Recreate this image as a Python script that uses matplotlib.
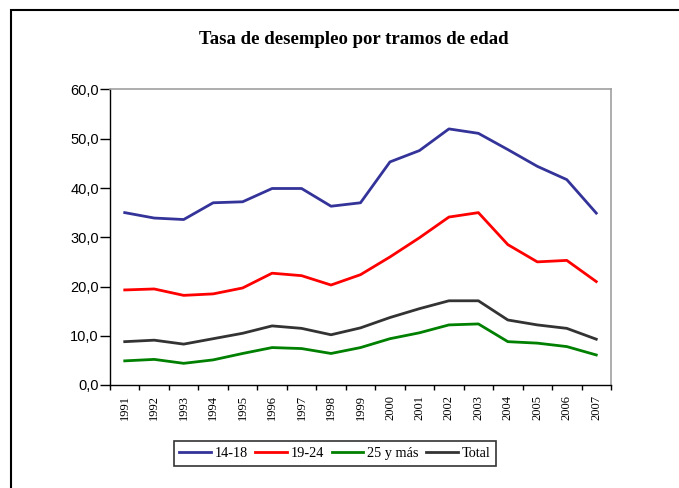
import matplotlib.pyplot as plt
from matplotlib.patches import Rectangle
import numpy as np

years = [str(y) for y in range(1991, 2008)]
jov_14_18 = [35.0, 33.9, 33.6, 37.0, 37.2, 39.9, 39.9, 36.3, 37.0, 45.3, 47.6, 52.0, 51.1, 47.8, 44.4, 41.7, 34.9]
jov_19_24 = [19.3, 19.5, 18.2, 18.5, 19.7, 22.7, 22.2, 20.3, 22.4, 26.0, 29.9, 34.1, 35.0, 28.5, 25.0, 25.3, 21.0]
adultos = [4.9, 5.2, 4.4, 5.1, 6.4, 7.6, 7.4, 6.4, 7.6, 9.4, 10.6, 12.2, 12.4, 8.8, 8.5, 7.8, 6.1]
total = [8.8, 9.1, 8.3, 9.4, 10.5, 12.0, 11.5, 10.2, 11.6, 13.7, 15.5, 17.1, 17.1, 13.2, 12.2, 11.5, 9.3]
yticks = [0, 10, 20, 30, 40, 50, 60]

serif = ['Liberation Serif', 'DejaVu Serif']
sans = ['Liberation Sans', 'DejaVu Sans']

fig = plt.figure(figsize=(6.79, 4.88), dpi=100)
# marco exterior
fig.patches.append(Rectangle((11 / 679, -0.1), 1.2, 1.1 - 10 / 488, transform=fig.transFigure,
                             fill=False, edgecolor='black', linewidth=1.5))

ax = fig.add_axes([110 / 679, 103 / 488, 501 / 679, 295.5 / 488])
x = np.arange(len(years))
ax.plot(x, jov_14_18, color='#333399', lw=2, label='14-18')
ax.plot(x, jov_19_24, color='#ff0000', lw=2, label='19-24')
ax.plot(x, adultos, color='#008000', lw=2, label='25 y más')
ax.plot(x, total, color='#333333', lw=2, label='Total')

ax.set_xlim(-0.5, len(years) - 0.5)
ax.set_ylim(0, 60)
ax.set_yticks(yticks)
ax.set_yticklabels(['{:.1f}'.format(v).replace('.', ',') for v in yticks],
                   fontfamily=sans, fontsize=10.5)
ax.set_xticks(x)
ax.set_xticklabels(years, rotation=90, fontfamily=serif, fontsize=9)
ax.set_xticks(np.arange(len(years) + 1) - 0.5, minor=True)
ax.tick_params(axis='x', which='major', length=0, pad=7)
ax.tick_params(axis='x', which='minor', length=3.5, direction='out', width=1)
ax.tick_params(axis='y', length=7, direction='out', width=1, pad=1)

for s in ['top', 'right']:
    ax.spines[s].set_color('#a0a0a0')
    ax.spines[s].set_linewidth(1.2)
for s in ['left', 'bottom']:
    ax.spines[s].set_color('black')
    ax.spines[s].set_linewidth(1)

fig.text(354 / 679, 1 - 40 / 488, 'Tasa de desempleo por tramos de edad', ha='center', va='center',
         fontfamily=serif, fontweight='bold', fontsize=13.5)

leg = fig.legend(loc='center', bbox_to_anchor=(335 / 679, 1 - 453.5 / 488), ncol=4,
                 prop={'family': serif, 'size': 10.3}, frameon=True, fancybox=False,
                 edgecolor='black', handlelength=2.2, columnspacing=0.5, handletextpad=0.3,
                 borderpad=0.4, borderaxespad=0)
leg.get_frame().set_linewidth(1.2)

fig.savefig('out.png', dpi=100)
